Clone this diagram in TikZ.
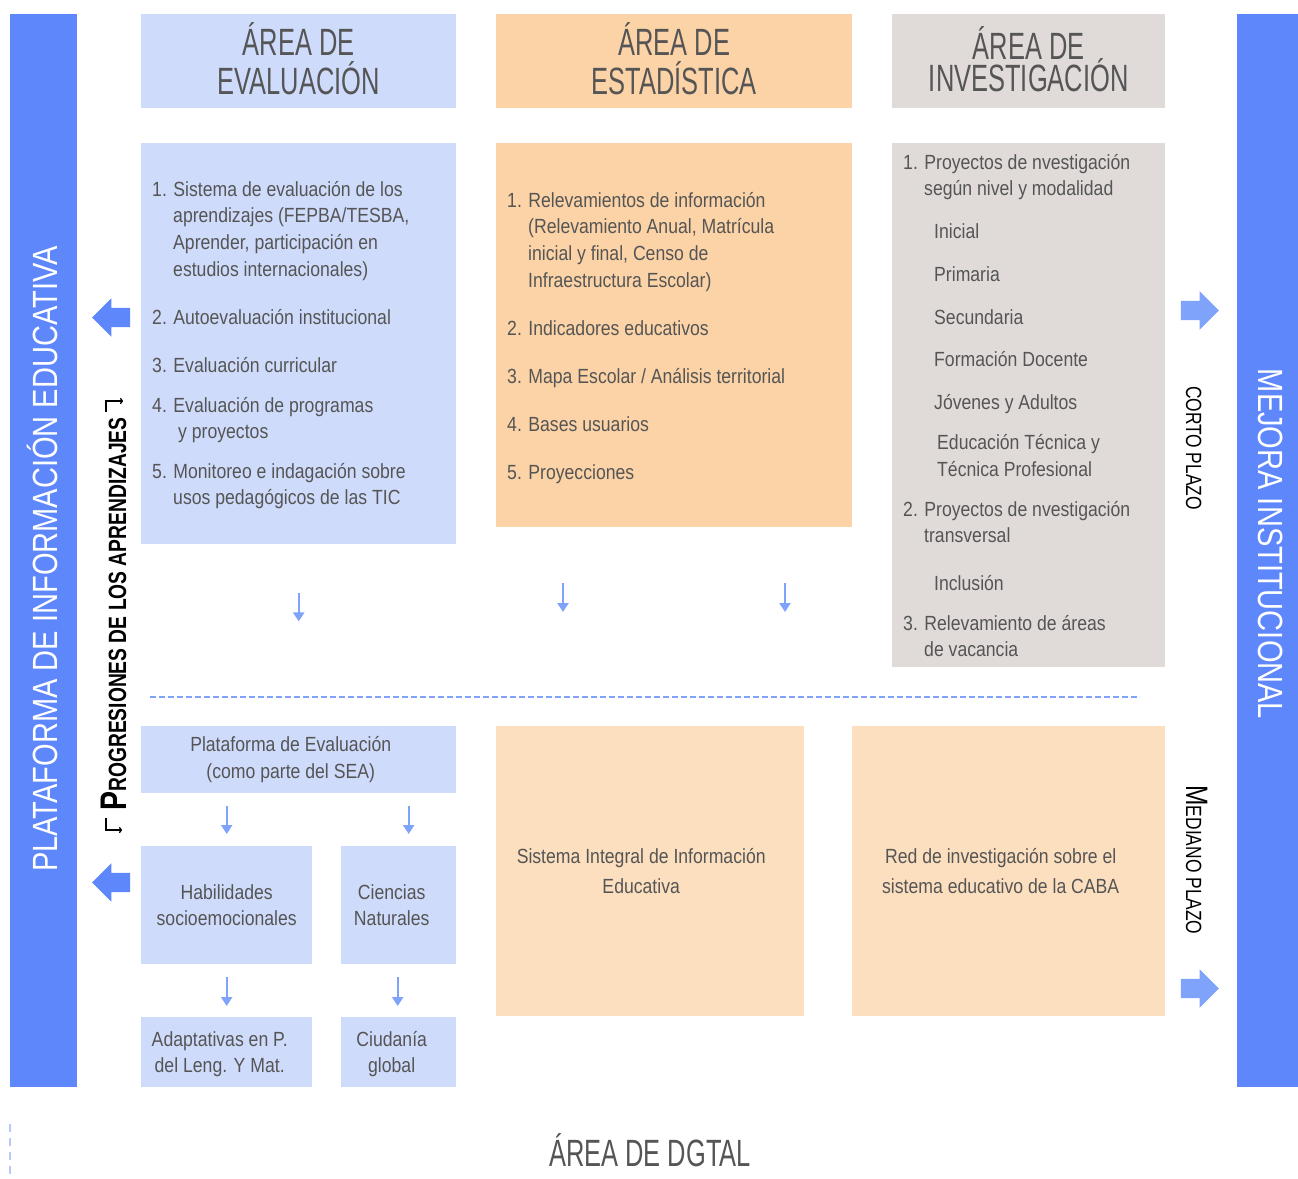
\documentclass[tikz,border=0pt]{standalone}
\usepackage{fontspec}
\setmainfont{Liberation Sans}[FakeStretch=0.86]
\newfontfamily\headfont{Liberation Sans}[FakeStretch=0.67]
\newfontfamily\sidefont{Liberation Sans}[FakeStretch=0.79]
\newfontfamily\barfont{Liberation Sans}[FakeStretch=0.83]
\newfontfamily\progfont{Liberation Sans Bold}[FakeStretch=0.77]
\usetikzlibrary{shapes.arrows,arrows.meta}
\definecolor{barblue}{RGB}{94,135,251}
\definecolor{arrblue}{RGB}{127,162,251}
\definecolor{evblue}{RGB}{207,219,251}
\definecolor{esorange}{RGB}{251,211,167}
\definecolor{sieorange}{RGB}{252,223,191}
\definecolor{ingray}{RGB}{224,219,217}
\definecolor{txtgray}{RGB}{85,85,85}
\tikzset{
  areabox/.style={fill=#1,inner sep=0,anchor=north west},
  headtxt/.style={font=\headfont\fontsize{38}{39}\selectfont,text=txtgray,align=center},
  itemtxt/.style={font=\fontsize{20.5}{26.7}\selectfont,text=txtgray,align=left,anchor=base west,inner sep=0},
  boxtxt/.style={font=\fontsize{20.5}{26.7}\selectfont,text=txtgray,align=center,inner sep=0},
  thinarr/.style={draw=arrblue,line width=2.4pt,-{Triangle[length=9pt,width=11pt]}},
  fatarr/.style={single arrow,fill=#1,inner xsep=0pt,inner ysep=9.5pt,minimum height=38pt,minimum width=38pt,single arrow head extend=9.5pt,single arrow tip angle=90},
  sidetxt/.style={font=\barfont\fontsize{35}{35}\selectfont,text=white,anchor=base},
  plazotxt/.style={font=\sidefont\fontsize{22}{22}\selectfont,anchor=base,rotate=-90},
  bracketarr/.style={line width=1.3pt,-{To[length=3pt,width=6pt]}},
}
\begin{document}
\begin{tikzpicture}[x=1pt,y=-1pt]
\useasboundingbox (0,0) rectangle (1298,1178);
%
% side bars
\node[areabox=barblue,minimum width=67,minimum height=1073] (platbar) at (10,14) {};
\node[areabox=barblue,minimum width=61,minimum height=1073] (mejbar) at (1237,14) {};
\node[sidetxt,rotate=90] (plattxt) at (57,559) {PLATAFORMA DE INFORMACIÓN EDUCATIVA};
\node[sidetxt,rotate=-90] (mejtxt) at (1258,544) {MEJORA INSTITUCIONAL};
%
% headers
\node[areabox=evblue,minimum width=315,minimum height=94] (evhead) at (141,14) {};
\node[areabox=esorange,minimum width=356,minimum height=94] (eshead) at (496,14) {};
\node[areabox=ingray,minimum width=273,minimum height=94] (inhead) at (892,14) {};
\node[headtxt] (evtitle) at ([yshift=2pt]evhead.center) {ÁREA DE\\EVALUACIÓN};
\node[headtxt] (estitle) at ([yshift=2pt]eshead.center) {ÁREA DE\\ESTADÍSTICA};
\node[headtxt] (intitle) at ([yshift=2pt]inhead.center) {ÁREA DE\\[-7pt]INVESTIGACIÓN};
%
% evaluacion
\node[areabox=evblue,minimum width=315,minimum height=401] (evbody) at (141,143) {};
\node[itemtxt] (ev1) at (152,276.1) {1. Sistema de evaluación de los\\\hspace*{21pt}aprendizajes (FEPBA/TESBA,\\\hspace*{21pt}Aprender, participación en\\\hspace*{21pt}estudios internacionales)};
\node[itemtxt] (ev2) at (152,324) {2. Autoevaluación institucional};
\node[itemtxt] (ev3) at (152,372) {3. Evaluación curricular};
\node[itemtxt] (ev4) at (152,438.7) {4. Evaluación de programas\\\hspace*{26pt}y proyectos};
\node[itemtxt] (ev5) at (152,504.7) {5. Monitoreo e indagación sobre\\\hspace*{21pt}usos pedagógicos de las TIC};
%
% estadistica
\node[areabox=esorange,minimum width=356,minimum height=384] (esbody) at (496,143) {};
\node[itemtxt] (es1) at (507,287.1) {1. Relevamientos de información\\\hspace*{21pt}(Relevamiento Anual, Matrícula\\\hspace*{21pt}inicial y final, Censo de\\\hspace*{21pt}Infraestructura Escolar)};
\node[itemtxt] (es2) at (507,335) {2. Indicadores educativos};
\node[itemtxt] (es3) at (507,383) {3. Mapa Escolar / Análisis territorial};
\node[itemtxt] (es4) at (507,431) {4. Bases usuarios};
\node[itemtxt] (es5) at (507,479) {5. Proyecciones};
%
% investigacion
\node[areabox=ingray,minimum width=273,minimum height=524] (inbody) at (892,143) {};
\node[itemtxt] (in1) at (903,195.7) {1. Proyectos de nvestigación\\\hspace*{21pt}según nivel y modalidad};
\node[itemtxt] (inini) at (934,238) {Inicial};
\node[itemtxt] (inpri) at (934,281) {Primaria};
\node[itemtxt] (insec) at (934,324) {Secundaria};
\node[itemtxt] (indoc) at (934,366) {Formación Docente};
\node[itemtxt] (injov) at (934,409) {Jóvenes y Adultos};
\node[itemtxt] (intec) at (937,476) {Educación Técnica y\\Técnica Profesional};
\node[itemtxt] (in2) at (903,542.7) {2. Proyectos de nvestigación\\\hspace*{21pt}transversal};
\node[itemtxt] (ininc) at (934,590) {Inclusión};
\node[itemtxt] (in3) at (903,656.7) {3. Relevamiento de áreas\\\hspace*{21pt}de vacancia};
%
\coordinate (esA) at (563,583);
\coordinate (esB) at (785,583);
\draw[thinarr] ([yshift=-49pt]evbody.south) -- ++(0,28);
\draw[thinarr] (esA) -- ++(0,29);
\draw[thinarr] (esB) -- ++(0,29);
\draw[arrblue,line width=1.5pt,dash pattern=on 6pt off 3pt] (150,697) -- (1140,697);
%
% mediano plazo
\node[areabox=evblue,minimum width=315,minimum height=67] (pevbox) at (141,726) {};
\node[boxtxt] (pevtxt) at ([xshift=-8pt]pevbox.center) {Plataforma de Evaluación\\(como parte del SEA)};
\node[areabox=evblue,minimum width=171,minimum height=118] (habbox) at (141,846) {};
\node[areabox=evblue,minimum width=115,minimum height=118] (cnbox) at (341,846) {};
\node[areabox=evblue,minimum width=171,minimum height=70] (adabox) at (141,1017) {};
\node[areabox=evblue,minimum width=115,minimum height=70] (ciubox) at (341,1017) {};
\node[boxtxt] (habtxt) at (habbox.center) {Habilidades\\socioemocionales};
\node[boxtxt] (cntxt) at ([xshift=-7pt]cnbox.center) {Ciencias\\Naturales};
\node[boxtxt] (adatxt) at ([xshift=-7pt,yshift=-2pt]adabox.center) {Adaptativas en P.\\del Leng. Y Mat.};
\node[boxtxt] (ciutxt) at ([xshift=-7pt,yshift=-2pt]ciubox.center) {Ciudanía\\global};
\draw[thinarr,shorten <=13pt,shorten >=12pt] (habbox.north |- pevbox.south) -- (habbox.north);
\draw[thinarr,shorten <=13pt,shorten >=12pt] ([xshift=10pt]cnbox.north |- pevbox.south) -- ([xshift=10pt]cnbox.north);
\draw[thinarr,shorten <=13pt,shorten >=11pt] (habbox.south) -- (habbox.south |- adabox.north);
\draw[thinarr,shorten <=13pt,shorten >=11pt] ([xshift=-1pt]cnbox.south) -- ([xshift=-1pt]cnbox.south |- ciubox.north);
%
\node[areabox=sieorange,minimum width=308,minimum height=290] (siebox) at (496,726) {};
\node[areabox=sieorange,minimum width=313,minimum height=290] (redbox) at (852,726) {};
\node[boxtxt] (sietxt) at ([xshift=-9pt]siebox.center) {Sistema Integral de Información\\[3.3pt]Educativa};
\node[boxtxt] (redtxt) at ([xshift=-8pt]redbox.center) {Red de investigación sobre el\\[3.3pt]sistema educativo de la CABA};
%
% fat arrows and plazo labels
\node[fatarr=barblue,shape border rotate=180] (larrA) at (116,317.5) {};
\node[fatarr=barblue,shape border rotate=180] (larrB) at (116,882.5) {};
\node[fatarr=arrblue] (rarrA) at (1195,310.5) {};
\node[fatarr=arrblue] (rarrB) at (1195,988.5) {};
\node[plazotxt] (corto) at (1186,448) {CORTO PLAZO};
\node[plazotxt] (mediano) at (1186,860) {{\fontsize{31}{31}\selectfont M}EDIANO PLAZO};
%
\node[rotate=90,anchor=base,font=\progfont\fontsize{25}{25}\selectfont] (prog) at (126,614) {{\fontsize{37}{37}\selectfont P}ROGRESIONES DE LOS APRENDIZAJES};
\draw[bracketarr] (106,412) -- (106,401) -- (123,401);
\draw[bracketarr] (106,818) -- (106,830) -- (122,830);
%
\node[headtxt] (dgtal) at (650,1150) {ÁREA DE DGTAL};
\draw[evblue!80!barblue,line width=2.5pt,dash pattern=on 8pt off 6pt] (10,1124) -- (10,1178);
\end{tikzpicture}
\end{document}
